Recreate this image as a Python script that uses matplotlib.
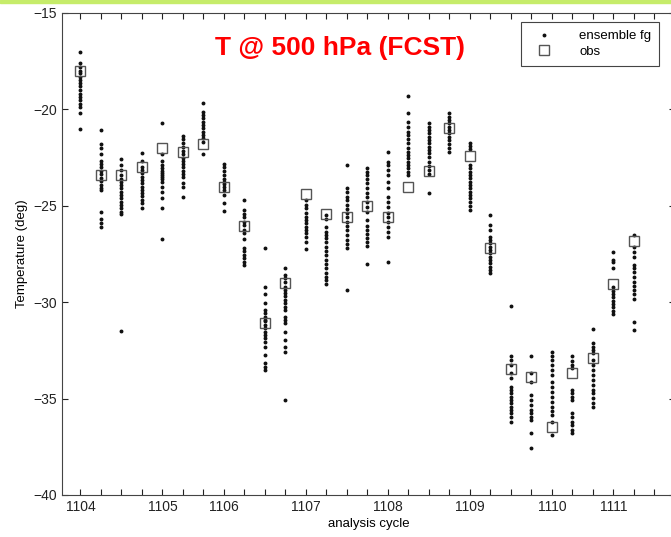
import matplotlib
matplotlib.use("Agg")
import matplotlib.pyplot as plt
from matplotlib.patches import Rectangle

plt.rcParams['font.family'] = ['Liberation Sans', 'DejaVu Sans']

# analysis cycles (one column of points per cycle)
cycles = list(range(28))
tick_pos = list(range(29))
label_pos = {0: "1104", 4: "1105", 7: "1106", 11: "1107",
             15: "1108", 19: "1109", 23: "1110", 26: "1111"}

# observed temperature for each cycle
obs = [-18.0, -23.4, -23.4, -23.0, -22.0, -22.2, -21.8, -24.0, -26.05, -31.06,
       -29.0, -24.4, -25.43, -25.6, -25.0, -25.6, -24.0, -23.18, -20.98, -22.42,
       -27.2, -33.46, -33.86, -36.45, -33.65, -32.88, -29.06, -26.81]

# ensemble first guess members for each cycle
ens_fg = [
    [-17.0, -17.6, -17.8, -18.0, -18.1, -18.3, -18.5, -18.65, -18.8, -19.0, -19.2,
     -19.35, -19.5, -19.7, -19.85, -20.2, -21.0],
    [-21.07, -21.8, -22.0, -22.3, -22.7, -22.85, -23.0, -23.2, -23.37, -23.54, -23.7,
     -23.9, -24.06, -24.2, -25.3, -25.7, -25.9, -26.1],
    [-22.57, -22.9, -23.14, -23.4, -23.6, -23.75, -23.92, -24.1, -24.27, -24.44, -24.6,
     -24.8, -24.96, -25.1, -25.3, -25.4, -31.5],
    [-22.28, -22.7, -23.0, -23.14, -23.3, -23.5, -23.66, -23.8, -24.0, -24.18, -24.35,
     -24.5, -24.7, -24.87, -25.1],
    [-20.7, -22.3, -22.7, -22.9, -23.05, -23.2, -23.3, -23.4, -23.5, -23.6, -23.75,
     -24.0, -24.27, -24.6, -25.1, -26.7],
    [-21.38, -21.55, -21.76, -21.93, -22.14, -22.3, -22.5, -22.66, -22.83, -23.0, -23.18,
     -23.35, -23.5, -23.83, -24.04, -24.56],
    [-19.68, -20.12, -20.3, -20.46, -20.64, -20.8, -20.98, -21.16, -21.33, -21.5, -21.67,
     -22.3],
    [-22.83, -23.0, -23.18, -23.4, -23.63, -23.75, -23.87, -24.0, -24.18, -24.44, -24.84,
     -25.25],
    [-24.7, -25.2, -25.4, -25.56, -25.82, -26.0, -26.26, -26.43, -26.7, -27.2, -27.37,
     -27.55, -27.72, -27.9, -28.07],
    [-27.2, -29.2, -29.6, -30.06, -30.4, -30.58, -30.75, -30.92, -31.0, -31.18, -31.35,
     -31.53, -31.7, -31.87, -32.05, -32.3, -32.74, -33.17, -33.35, -33.52],
    [-28.24, -28.6, -28.76, -28.94, -29.2, -29.37, -29.54, -29.7, -29.9, -30.06, -30.23,
     -30.4, -30.75, -30.92, -31.1, -31.53, -31.96, -32.3, -32.56, -35.07],
    [-24.7, -24.96, -25.13, -25.39, -25.56, -25.74, -25.9, -26.08, -26.26, -26.43, -26.63,
     -26.86, -27.26],
    [-25.48, -25.7, -26.1, -26.34, -26.5, -26.69, -26.9, -27.12, -27.33, -27.55, -27.8,
     -28.02, -28.24, -28.5, -28.68, -28.85, -29.05],
    [-22.9, -24.1, -24.27, -24.53, -24.7, -24.96, -25.18, -25.39, -25.6, -25.82, -26.05,
     -26.26, -26.5, -26.77, -26.98, -27.2, -29.37],
    [-23.06, -23.23, -23.4, -23.63, -23.83, -24.1, -24.32, -24.53, -24.79, -25.08, -25.3,
     -25.74, -26.05, -26.26, -26.46, -26.69, -26.9, -27.09, -28.02],
    [-22.19, -22.71, -22.88, -23.14, -23.4, -23.75, -24.1, -24.53, -24.79, -25.08, -25.36,
     -25.56, -25.82, -26.08, -26.34, -26.6, -27.9],
    [-19.3, -20.2, -20.64, -20.9, -21.16, -21.33, -21.55, -21.76, -22.02, -22.19, -22.36,
     -22.54, -22.71, -22.88, -23.06, -23.23, -23.4],
    [-20.69, -20.9, -21.07, -21.24, -21.41, -21.59, -21.76, -21.93, -22.1, -22.28, -22.48,
     -22.71, -22.94, -23.14, -23.35, -24.35],
    [-20.2, -20.38, -20.55, -20.72, -20.9, -21.07, -21.24, -21.41, -21.59, -21.8, -22.02,
     -22.19],
    [-21.73, -21.9, -22.07, -22.88, -23.06, -23.23, -23.4, -23.57, -23.75, -23.92, -24.1,
     -24.27, -24.44, -24.6, -24.78, -25.0, -25.22],
    [-25.48, -26.0, -26.26, -26.6, -26.77, -26.95, -27.12, -27.3, -27.46, -27.64, -27.8,
     -27.98, -28.16, -28.33, -28.47],
    [-30.2, -32.8, -32.99, -33.26, -33.69, -33.95, -34.38, -34.55, -34.72, -34.9, -35.07,
     -35.24, -35.42, -35.59, -35.76, -35.97, -36.2],
    [-32.8, -33.69, -34.12, -34.81, -35.07, -35.33, -35.59, -35.76, -35.94, -36.1, -36.8,
     -37.58],
    [-32.56, -32.79, -32.99, -33.26, -33.52, -33.77, -34.12, -34.38, -34.64, -34.9, -35.16,
     -35.42, -35.63, -35.85, -36.2, -36.89],
    [-32.79, -33.03, -33.26, -33.43, -34.55, -34.72, -34.9, -35.07, -35.76, -35.94, -36.2,
     -36.37, -36.63, -36.8],
    [-31.41, -32.13, -32.3, -32.48, -32.65, -33.0, -33.26, -33.52, -33.77, -34.03, -34.3,
     -34.55, -34.72, -34.98, -35.24, -35.45],
    [-27.38, -27.81, -27.9, -28.24, -29.23, -29.4, -29.57, -29.75, -29.92, -30.1, -30.27,
     -30.44, -30.61],
    [-26.5, -27.12, -27.38, -27.64, -28.07, -28.24, -28.42, -28.68, -28.94, -29.16, -29.37,
     -29.57, -29.85, -31.01, -31.44],
]

fig = plt.figure(figsize=(6.71, 5.37), dpi=100)
ax = fig.add_axes([62 / 671, 42 / 537, 613 / 671, 482 / 537])

# slide border band at the top
fig.patches.append(Rectangle((0, 1 - 3 / 537), 1, 3 / 537, transform=fig.transFigure,
                             color="#c6ec6a", zorder=0))

ens_x = [c for c, members in zip(cycles, ens_fg) for _ in members]
ens_y = [v for members in ens_fg for v in members]
ax.plot(ens_x, ens_y, linestyle="none", marker="o", ms=1.8, color="#111111",
        label="ensemble fg", zorder=2)
ax.plot(cycles, obs, linestyle="none", marker="s", ms=6.5, mfc="none",
        mec="#555555", mew=1.0, label="obs", zorder=3)

ax.set_xlim(-0.9, 29.0)
ax.set_ylim(-40, -15)
ax.set_yticks([-40, -35, -30, -25, -20, -15])
ax.set_xticks(tick_pos)
ax.set_xticklabels([label_pos.get(t, "") for t in tick_pos])
ax.tick_params(direction="in", length=4, width=0.8, top=True, right=True,
               labelsize=10, colors="#222222")
for s in ax.spines.values():
    s.set_color("#444444")
    s.set_linewidth(0.8)

ax.set_xlabel("analysis cycle", fontsize=9.5, labelpad=3)
ax.set_ylabel("Temperature (deg)", fontsize=9.5, labelpad=4)

ax.text(0.453, 0.928, "T @ 500 hPa (FCST)", transform=ax.transAxes, color="red",
        fontsize=19, fontweight="bold", ha="center", va="center")

leg = ax.legend(loc="upper right", bbox_to_anchor=(0.985, 0.995), fontsize=9.5,
                fancybox=False, edgecolor="#444444", framealpha=1,
                handletextpad=1.6, borderpad=0.6, labelspacing=0.25,
                handlelength=2.2)
leg.get_frame().set_linewidth(0.8)

fig.savefig("out.png", dpi=100)
